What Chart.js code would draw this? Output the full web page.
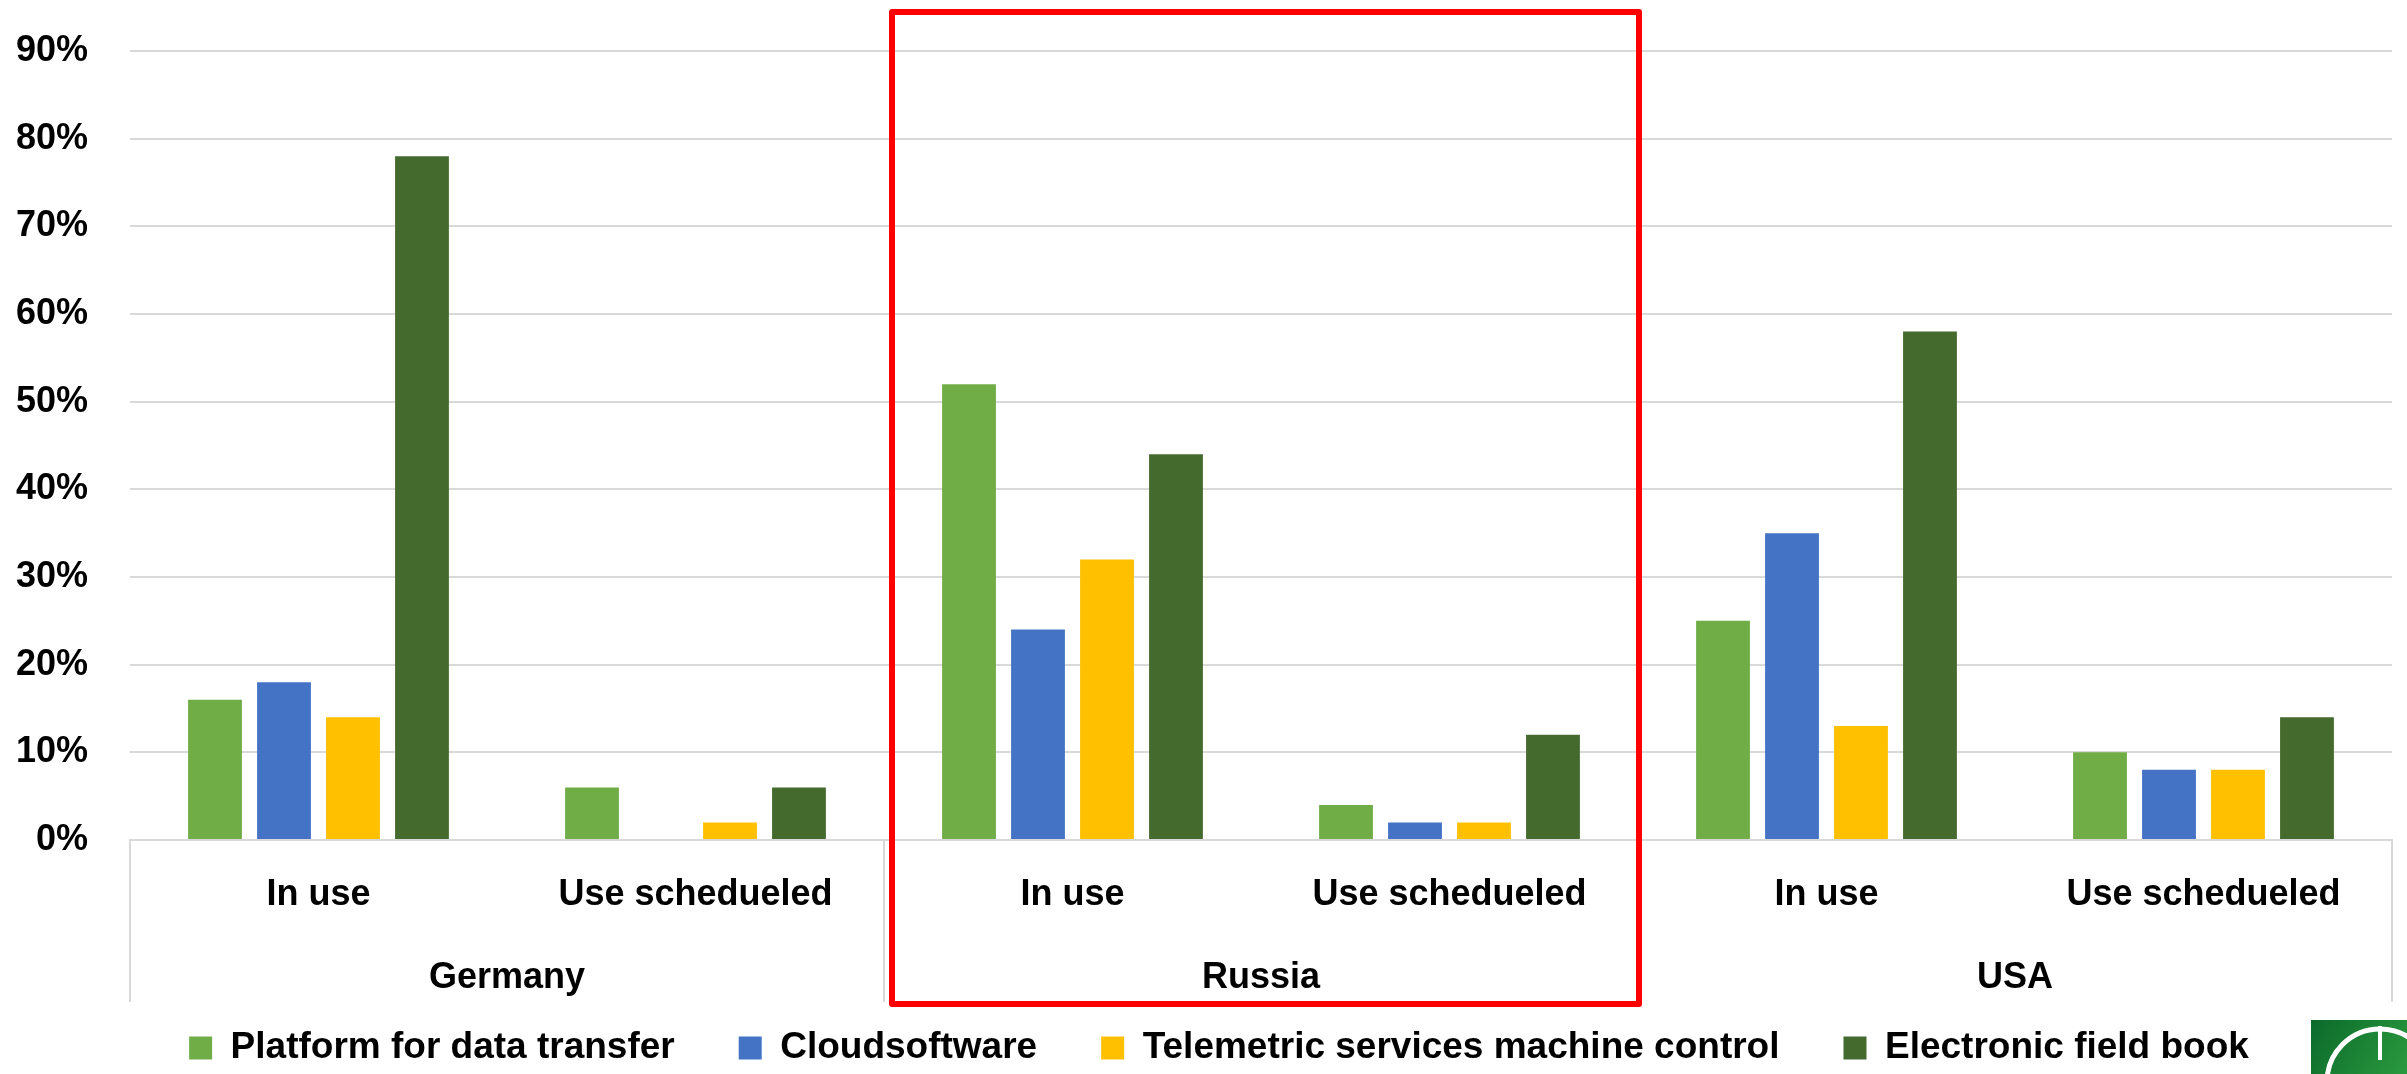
<!DOCTYPE html>
<html>
<head>
<meta charset="utf-8">
<script src="https://cdn.jsdelivr.net/npm/chart.js@4/dist/chart.umd.min.js"></script>
<style>
  html, body { margin: 0; padding: 0; background: #ffffff; }
  #wrap { width: 2407px; height: 1074px; position: relative; }
</style>
</head>
<body>
<div id="wrap"><canvas id="c" width="2407" height="1074"></canvas></div>
<script>
// ---- data ----
const groups = ['Germany', 'Russia', 'USA'];
const categories = ['In use', 'Use schedueled', 'In use', 'Use schedueled', 'In use', 'Use schedueled'];
const seriesNames = ['Platform for data transfer', 'Cloudsoftware', 'Telemetric services machine control', 'Electronic field book'];
const platform   = [16, 6, 52, 4, 25, 10];
const cloud      = [18, 0, 24, 2, 35, 8];
const telemetric = [14, 2, 32, 2, 13, 8];
const fieldBook  = [78, 6, 44, 12, 58, 14];
const yTickValues = [0, 10, 20, 30, 40, 50, 60, 70, 80, 90];

const colors = ['#70ad47', '#4472c4', '#ffc000', '#456a2d'];
const FONT = "'Liberation Sans', Arial, sans-serif";

const decor = {
  id: 'decor',
  beforeUpdate(chart) {
    const lg = chart.legend;
    if (lg && !lg._patched) {
      const origFit = lg.fit.bind(lg);
      lg.fit = function () { origFit(); this.height = 108.5; };
      const origDraw = lg.draw.bind(lg);
      lg.draw = function () {
        const c = this.ctx;
        c.save();
        c.translate(15, 0);
        origDraw();
        c.restore();
      };
      lg._patched = true;
    }
  },
  afterDraw(chart) {
    const ctx = chart.ctx;
    const x = chart.scales.x;
    const area = chart.chartArea;
    ctx.save();
    // group labels (second level of the category axis)
    ctx.fillStyle = '#000000';
    ctx.font = 'bold 36px ' + FONT;
    ctx.textAlign = 'center';
    ctx.textBaseline = 'middle';
    groups.forEach((gname, i) => {
      ctx.fillText(gname, x.getPixelForValue(2 * i + 0.5), area.bottom + 138);
    });
    // group separators
    ctx.strokeStyle = '#d9d9d9';
    ctx.lineWidth = 2;
    [-0.5, 1.5, 3.5, 5.5].forEach(v => {
      const px = Math.round(x.getPixelForValue(v));
      ctx.beginPath();
      ctx.moveTo(px, area.bottom);
      ctx.lineTo(px, area.bottom + 162);
      ctx.stroke();
    });
    // red highlight box around Russia
    const l = x.getPixelForValue(1.5) + 8;
    const r = x.getPixelForValue(3.5) + 1;
    ctx.strokeStyle = '#ff0000';
    ctx.lineWidth = 6;
    ctx.lineJoin = 'round';
    ctx.beginPath();
    ctx.rect(l, 12, r - l, 1004 - 12);
    ctx.stroke();
    // logo fragment (bottom right)
    const W = chart.width, H = chart.height;
    const lx = W - 96, ly = H - 54;
    const g = ctx.createLinearGradient(lx, ly, W, H);
    g.addColorStop(0, '#0b6a2b');
    g.addColorStop(1, '#2a9a3e');
    ctx.fillStyle = g;
    ctx.fillRect(lx, ly, 96, 54);
    ctx.beginPath();
    ctx.rect(lx, ly, 96, 54);
    ctx.clip();
    ctx.strokeStyle = '#ffffff';
    ctx.lineWidth = 5;
    ctx.beginPath();
    ctx.arc(lx + 69, ly + 62, 53, 0, Math.PI * 2);
    ctx.stroke();
    ctx.lineWidth = 4;
    ctx.beginPath();
    ctx.moveTo(lx + 69, ly + 6);
    ctx.lineTo(lx + 69, ly + 40);
    ctx.stroke();
    ctx.restore();
  }
};

new Chart(document.getElementById('c'), {
  type: 'bar',
  data: {
    labels: categories,
    datasets: [
      { label: seriesNames[0], data: platform,   backgroundColor: colors[0] },
      { label: seriesNames[1], data: cloud,      backgroundColor: colors[1] },
      { label: seriesNames[2], data: telemetric, backgroundColor: colors[2] },
      { label: seriesNames[3], data: fieldBook,  backgroundColor: colors[3] }
    ]
  },
  options: {
    responsive: false,
    animation: false,
    devicePixelRatio: 1,
    categoryPercentage: 0.732,
    barPercentage: 0.78,
    borderWidth: 0,
    layout: { padding: { left: 16, right: 15, top: 51, bottom: 0 } },
    scales: {
      y: {
        min: 0, max: 90,
        afterBuildTicks: (axis) => { axis.ticks = yTickValues.map(v => ({ value: v })); },
        afterFit: (axis) => { axis.width = 114; axis.paddingTop = 22; axis.paddingBottom = 22; },
        ticks: {
          padding: 42,
          color: '#000000',
          font: { family: FONT, size: 36, weight: 'bold' },
          callback: (v) => v + '%'
        },
        grid: { color: '#d9d9d9', lineWidth: 2, drawTicks: false },
        border: { display: false }
      },
      x: {
        type: 'category',
        offset: true,
        afterFit: (axis) => { axis.height = 125.5; },
        grid: { display: false, drawTicks: false },
        border: { display: true, color: '#d9d9d9', width: 2 },
        ticks: {
          autoSkip: false, maxRotation: 0, minRotation: 0,
          padding: 33,
          color: '#000000',
          font: { family: FONT, size: 36, weight: 'bold' }
        }
      }
    },
    plugins: {
      legend: {
        position: 'bottom',
        labels: {
          boxWidth: 23, boxHeight: 23,
          padding: 64,
          color: '#000000',
          font: { family: FONT, size: 37, weight: 'bold' }
        }
      },
      tooltip: { enabled: false }
    }
  },
  plugins: [decor]
});
</script>
</body>
</html>
